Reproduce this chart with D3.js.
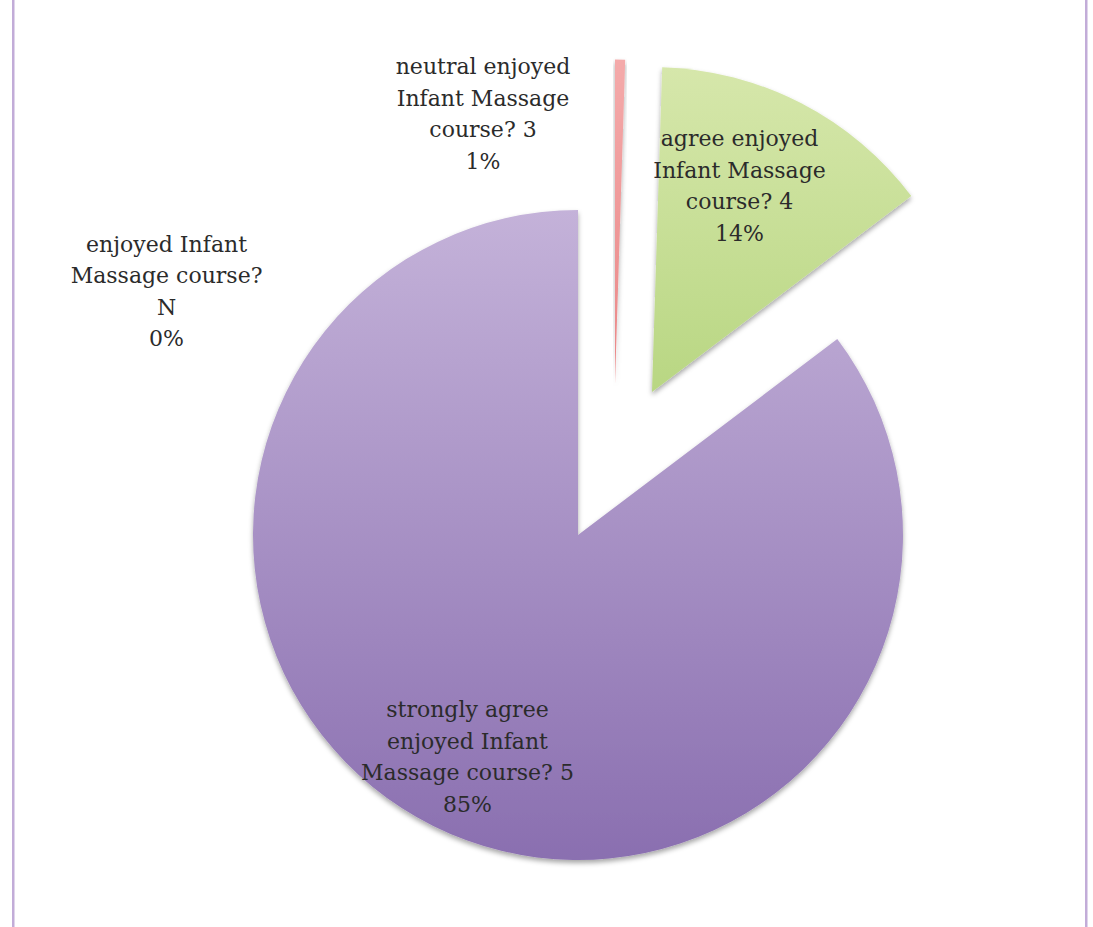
<!DOCTYPE html>
<html>
<head>
<meta charset="utf-8">
<script src="https://cdn.jsdelivr.net/npm/d3@7"></script>
<style>
  body { margin: 0; background: #fff; }
  text { font-family: "DejaVu Serif", serif; fill: #2b2b2b; }
</style>
</head>
<body>
<div id="chart"></div>
<script>
// data
var categories = ["enjoyed Infant Massage course? N",
                  "neutral enjoyed Infant Massage course? 3",
                  "agree enjoyed Infant Massage course? 4",
                  "strongly agree enjoyed Infant Massage course? 5"];
var values = [0, 0.5, 14.2, 85.3];
var pctLabels = ["0%", "1%", "14%", "85%"];
var labelLines = [
  ["enjoyed Infant", "Massage course?", "N"],
  ["neutral enjoyed", "Infant Massage", "course? 3"],
  ["agree enjoyed", "Infant Massage", "course? 4"],
  ["strongly agree", "enjoyed Infant", "Massage course? 5"]
];

var width = 1093, height = 927;
var cx = 578, cy = 535, radius = 325;

// how far each slice is pulled out, and where its label sits (polar, from slice origin)
var explode = [{d: 0}, {d: 155, a: 13.8}, {d: 161}, {d: 0}];
var labelPos = [{a: -59.4, d: 478}, {a: -26, d: 301}, {a: 23, d: 224}, {d: 248}];

var fills = [
  ["#c9b8dc", "#8a70b0"],
  ["#f4aaaa", "#e06262"],
  ["#d6e7ab", "#9bc65a"],
  ["#c4b2d9", "#8a6fb0"]
];

var svg = d3.select("#chart").append("svg")
    .attr("width", width)
    .attr("height", height);

// page frame lines
svg.append("rect").attr("x", 12).attr("y", 0).attr("width", 2.5).attr("height", height).attr("fill", "#c2acd8");
svg.append("rect").attr("x", 1085).attr("y", 0).attr("width", 2.5).attr("height", height).attr("fill", "#c2acd8");

var defs = svg.append("defs");
var filter = defs.append("filter").attr("id", "shadow")
    .attr("x", "-10%").attr("y", "-10%").attr("width", "120%").attr("height", "120%");
filter.append("feDropShadow")
    .attr("dx", 0).attr("dy", 3).attr("stdDeviation", 2.5)
    .attr("flood-color", "#000").attr("flood-opacity", 0.35);

var pie = d3.pie().sort(null).value(function(d) { return d; });
var arcs = pie(values);
var arc = d3.arc().innerRadius(0).outerRadius(radius);

var rad = Math.PI / 180;

arcs.forEach(function(a, i) {
  var mid = (a.startAngle + a.endAngle) / 2;
  var ang = explode[i].a !== undefined ? explode[i].a * rad : mid;
  a.ox = cx + explode[i].d * Math.sin(ang);
  a.oy = cy - explode[i].d * Math.cos(ang);

  var g = defs.append("linearGradient").attr("id", "grad" + i)
      .attr("gradientUnits", "userSpaceOnUse")
      .attr("x1", 0).attr("x2", 0)
      .attr("y1", -radius).attr("y2", radius);
  g.append("stop").attr("offset", "0%").attr("stop-color", fills[i][0]);
  g.append("stop").attr("offset", "100%").attr("stop-color", fills[i][1]);
});

svg.selectAll("path.slice")
  .data(arcs.filter(function(a) { return a.value > 0; }))
  .enter().append("path")
    .attr("class", "slice")
    .attr("transform", function(a) { return "translate(" + a.ox + "," + a.oy + ")"; })
    .attr("d", arc)
    .attr("fill", function(a) { return "url(#grad" + a.index + ")"; })
    .attr("filter", "url(#shadow)");

// labels
var lineH = 31.5;
arcs.forEach(function(a, i) {
  var mid = (a.startAngle + a.endAngle) / 2;
  var ang = labelPos[i].a !== undefined ? labelPos[i].a * rad : mid;
  var lx = a.ox + labelPos[i].d * Math.sin(ang);
  var ly = a.oy - labelPos[i].d * Math.cos(ang);
  var lines = labelLines[i].concat([pctLabels[i]]);
  var t = svg.append("text")
      .attr("text-anchor", "middle")
      .attr("font-size", 22);
  lines.forEach(function(s, k) {
    t.append("tspan")
      .attr("x", lx)
      .attr("y", ly + (k - (lines.length - 1) / 2) * lineH + 7.5)
      .text(s);
  });
});
</script>
</body>
</html>
